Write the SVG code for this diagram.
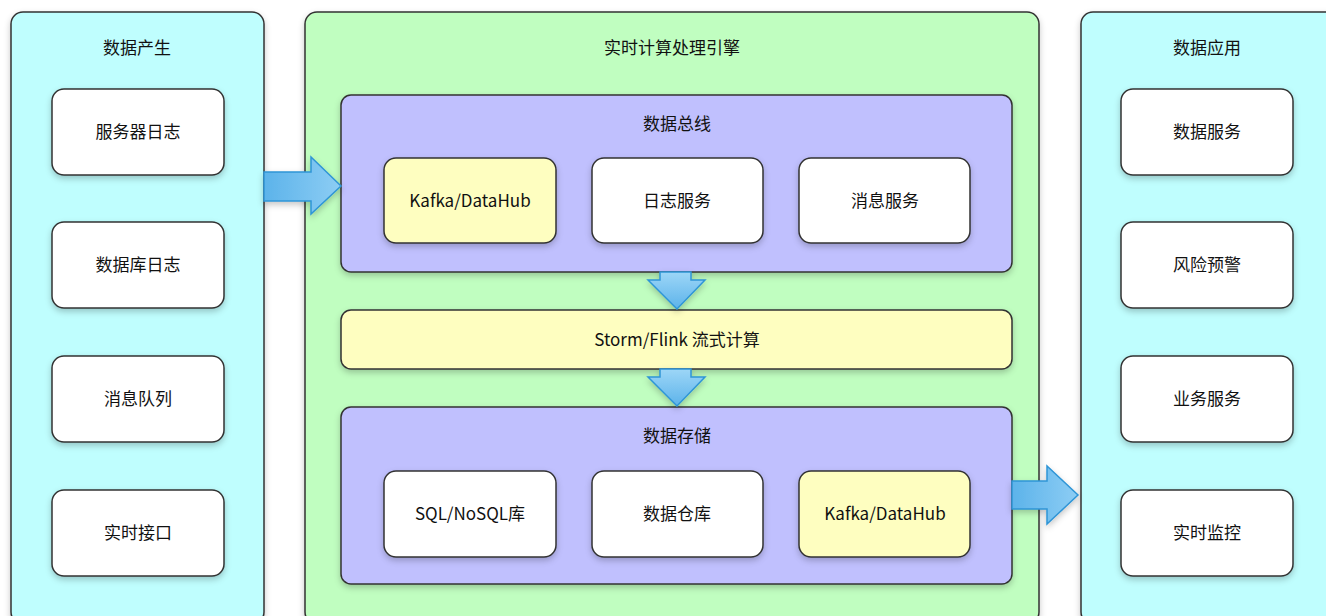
<svg xmlns="http://www.w3.org/2000/svg" width="1326" height="616" viewBox="0 0 1326 616">
<defs>
<filter id="sh" x="-20%" y="-20%" width="140%" height="150%">
<feDropShadow dx="0" dy="3" stdDeviation="3" flood-color="#000" flood-opacity="0.22"/>
</filter>
<linearGradient id="bl" x1="0" y1="0" x2="0" y2="1">
<stop offset="0" stop-color="#9dd6f7"/>
<stop offset="1" stop-color="#5cb3ea"/>
</linearGradient>
<linearGradient id="bh" x1="0" y1="0" x2="1" y2="0">
<stop offset="0" stop-color="#5cb3ea"/>
<stop offset="1" stop-color="#8dcdf4"/>
</linearGradient>
</defs>
<style>
.panel{stroke:#333;stroke-width:1.5;filter:url(#sh)}
.cyan{fill:#bffefe}
.green{fill:#c0fec0}
.purple{fill:#c0c0fe}
.yellow{fill:#fefec0}
.white{fill:#fff}
.node{stroke:#333;stroke-width:1.5;filter:url(#sh)}
text{font-family:"Noto Sans CJK SC","Liberation Sans",sans-serif;font-size:17px;fill:#111;text-anchor:middle;dominant-baseline:central}
.arr{stroke:#2f95d6;stroke-width:1.5;stroke-linejoin:miter;filter:url(#sh)}
</style>
<rect width="1326" height="616" fill="#fff"/>

<g id="producer">
<rect class="panel cyan" x="11" y="12" width="253" height="612" rx="12"/>
<text x="137" y="46">数据产生</text>
</g>
<g id="engine">
<rect class="panel green" x="305" y="12" width="734" height="612" rx="12"/>
<text x="672" y="46">实时计算处理引擎</text>
</g>
<g id="app">
<rect class="panel cyan" x="1081" y="12" width="260" height="612" rx="12"/>
<text x="1207" y="46">数据应用</text>
</g>

<g id="n-server-log"><rect class="node white" x="52" y="89" width="172" height="86" rx="12"/><text x="138" y="130">服务器日志</text></g>
<g id="n-db-log"><rect class="node white" x="52" y="222" width="172" height="86" rx="12"/><text x="138" y="263">数据库日志</text></g>
<g id="n-mq"><rect class="node white" x="52" y="356" width="172" height="86" rx="12"/><text x="138" y="397">消息队列</text></g>
<g id="n-rt-api"><rect class="node white" x="52" y="490" width="172" height="86" rx="12"/><text x="138" y="531">实时接口</text></g>

<g id="bus">
<rect class="panel purple" x="341" y="95" width="671" height="177" rx="10"/>
<text x="677" y="122">数据总线</text>
</g>
<g id="n-kafka1"><rect class="node yellow" x="384" y="158" width="172" height="85" rx="12"/><text x="470" y="199">Kafka/DataHub</text></g>
<g id="n-logsvc"><rect class="node white" x="592" y="158" width="171" height="85" rx="12"/><text x="677" y="199">日志服务</text></g>
<g id="n-msgsvc"><rect class="node white" x="799" y="158" width="171" height="85" rx="12"/><text x="885" y="199">消息服务</text></g>

<g id="stream"><rect class="node yellow" x="341" y="310" width="671" height="59" rx="10"/><text x="677" y="338">Storm/Flink 流式计算</text></g>

<g id="storage">
<rect class="panel purple" x="341" y="407" width="671" height="177" rx="10"/>
<text x="677" y="434">数据存储</text>
</g>
<g id="n-sql"><rect class="node white" x="384" y="471" width="172" height="86" rx="12"/><text x="470" y="512">SQL/NoSQL库</text></g>
<g id="n-dw"><rect class="node white" x="592" y="471" width="171" height="86" rx="12"/><text x="677" y="512">数据仓库</text></g>
<g id="n-kafka2"><rect class="node yellow" x="799" y="471" width="171" height="86" rx="12"/><text x="885" y="512">Kafka/DataHub</text></g>

<g id="n-datasvc"><rect class="node white" x="1121" y="89" width="172" height="86" rx="12"/><text x="1207" y="130">数据服务</text></g>
<g id="n-risk"><rect class="node white" x="1121" y="222" width="172" height="86" rx="12"/><text x="1207" y="263">风险预警</text></g>
<g id="n-biz"><rect class="node white" x="1121" y="356" width="172" height="86" rx="12"/><text x="1207" y="397">业务服务</text></g>
<g id="n-monitor"><rect class="node white" x="1121" y="490" width="172" height="86" rx="12"/><text x="1207" y="531">实时监控</text></g>

<g id="connectors">
<path class="arr" fill="url(#bh)" d="M264,172 L311,172 L311,157 L341,186 L311,214 L311,201 L264,201 Z"/>
<path class="arr" fill="url(#bl)" d="M660,272 L691,272 L691,280 L705,280 L677,309 L648,280 L660,280 Z"/>
<path class="arr" fill="url(#bl)" d="M660,369 L691,369 L691,377 L705,377 L677,406 L648,377 L660,377 Z"/>
<path class="arr" fill="url(#bh)" d="M1012,481 L1047,481 L1047,466 L1078,495 L1047,524 L1047,509 L1012,509 Z"/>
</g>
</svg>
